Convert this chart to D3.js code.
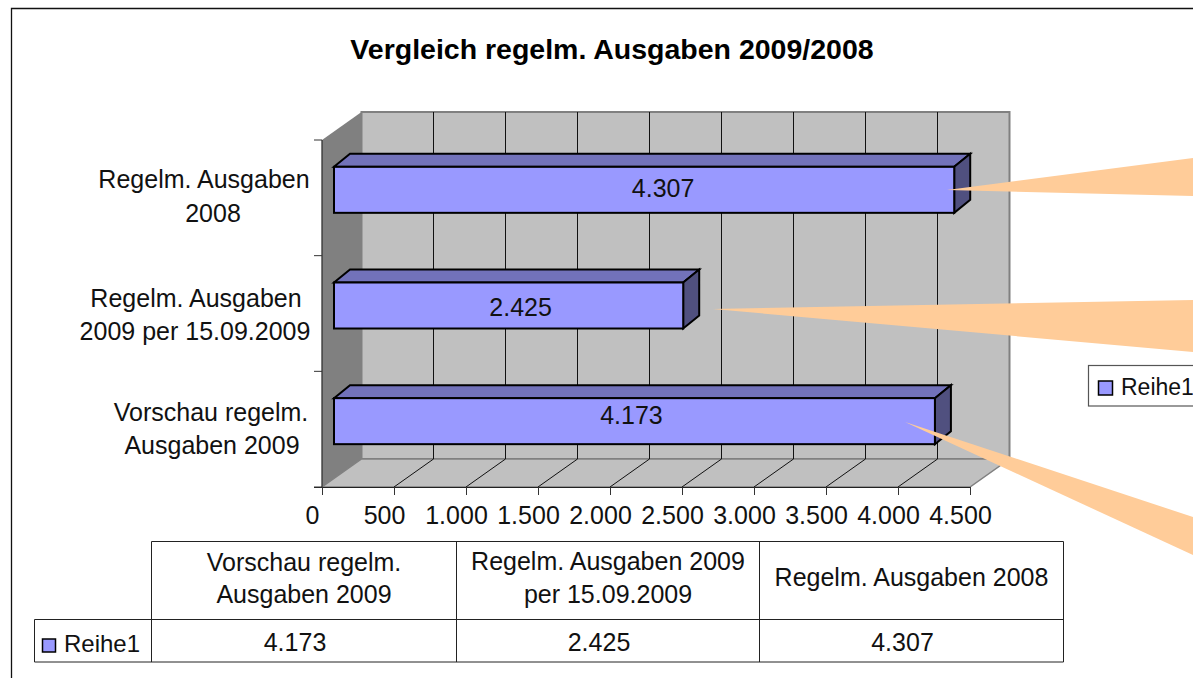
<!DOCTYPE html>
<html>
<head>
<meta charset="utf-8">
<script src="https://cdn.jsdelivr.net/npm/d3@7"></script>
<style>
  html, body { margin: 0; padding: 0; background: #fff; overflow: hidden; }
  text { font-family: "Liberation Sans", Arial, sans-serif; fill: #111; }
</style>
</head>
<body>
<svg id="chart" width="1193" height="678"></svg>
<script>
// values, bottom row of the chart first
const categories = ["Vorschau regelm. Ausgaben 2009", "Regelm. Ausgaben 2009 per 15.09.2009", "Regelm. Ausgaben 2008"];
const values = [4173, 2425, 4307];
const seriesName = "Reihe1";
const axisTicks = [0, 500, 1000, 1500, 2000, 2500, 3000, 3500, 4000, 4500];
const title = "Vergleich regelm. Ausgaben 2009/2008";

// line breaks differ between the axis and the table
const axisLabelLines = [["Vorschau regelm.", "Ausgaben 2009"], ["Regelm. Ausgaben", "2009 per 15.09.2009"], ["Regelm. Ausgaben", "2008"]];
const tableLabelLines = [["Vorschau regelm.", "Ausgaben 2009"], ["Regelm. Ausgaben 2009", "per 15.09.2009"], ["Regelm. Ausgaben 2008"]];

const svg = d3.select("#chart");
const locale = d3.formatLocale({ decimal: ",", thousands: ".", grouping: [3], currency: ["", ""] });
const fmt = locale.format(",d");
const fontSize = 25;

const x = d3.scaleLinear().domain([0, 4500]).range([322, 970]);
const y = d3.scaleBand().domain(categories).range([487, 140]);

const depth = { x: 39.5, y: -28 };
const bar = { offset: 12, dx: 16, dy: -13, height: 46 };
const barColor = { front: "#9999FF", top: "#7272BA", side: "#50507F" };

const top3d = y.range()[1], bottom3d = y.range()[0];
const left = x.range()[0], right = x.range()[1];
const poly = pts => "M" + pts.map(p => p.join(",")).join("L") + "Z";

// outer frame, only top and left are in view
svg.append("path")
    .attr("d", `M1193,8.5H11.5V678`)
    .attr("fill", "none").attr("stroke", "#111").attr("stroke-width", 1.3);

svg.append("text")
    .attr("x", 612).attr("y", 59)
    .attr("text-anchor", "middle")
    .attr("font-size", 28.5).attr("font-weight", "bold")
    .style("fill", "#000")
    .text(title);

// back wall, side wall, floor
svg.append("path")
    .attr("d", poly([[left + depth.x, top3d + depth.y], [right + depth.x, top3d + depth.y], [right + depth.x, bottom3d + depth.y], [left + depth.x, bottom3d + depth.y]]))
    .attr("fill", "#C0C0C0").attr("stroke", "#808080").attr("stroke-width", 2);
svg.append("path")
    .attr("d", poly([[left, top3d], [left + depth.x, top3d + depth.y], [left + depth.x, bottom3d + depth.y], [left, bottom3d]]))
    .attr("fill", "#808080");
svg.append("path")
    .attr("d", poly([[left, bottom3d], [left + depth.x, bottom3d + depth.y], [right + depth.x, bottom3d + depth.y], [right, bottom3d]]))
    .attr("fill", "#C0C0C0").attr("stroke", "#808080").attr("stroke-width", 1.5);

// grid on the back wall and floor
const grid = svg.append("g").attr("fill", "none").attr("stroke", "#111").attr("stroke-width", 1);
grid.selectAll("path.wall")
    .data(axisTicks.slice(1, -1))
    .enter().append("path")
    .attr("class", "wall")
    .attr("d", d => `M${x(d) + depth.x},${top3d + depth.y}V${bottom3d + depth.y}`);
grid.selectAll("path.floor")
    .data(axisTicks.slice(1, -1))
    .enter().append("path")
    .attr("class", "floor")
    .attr("d", d => `M${x(d)},${bottom3d}L${x(d) + depth.x},${bottom3d + depth.y}`);

// value axis, labels sit a little left of their ticks in the original
const xAxis = d3.axisBottom(x).tickValues(axisTicks).tickFormat(fmt).tickSize(8).tickPadding(11);
const xG = svg.append("g")
    .attr("transform", `translate(0,${bottom3d})`)
    .call(xAxis);
xG.select(".domain").attr("stroke", "#222").attr("d", `M${left - 8},0.5H${right}`);
xG.selectAll(".tick line").attr("stroke", "#333");
xG.selectAll(".tick text")
    .attr("font-size", fontSize)
    .attr("font-family", "Liberation Sans")
    .attr("dx", -10)
    .style("fill", "#111");

// category axis
const yTicks = svg.append("g").attr("stroke", "#333").attr("fill", "none");
yTicks.append("path").attr("d", `M${left},${top3d}V${bottom3d}`).attr("stroke", "#333").attr("stroke-width", 1.3);
yTicks.selectAll("path.t")
    .data(d3.range(categories.length + 1))
    .enter().append("path")
    .attr("class", "t")
    .attr("d", i => `M${left - 8},${bottom3d - i * y.step()}H${left}`);

const labelShift = [[211, 212], [196, 195], [204, 213]];
const labelBase = [[-8, 25], [-7, 26], [-10, 24]];
categories.forEach((c, i) => {
    const cy = y(c) + y.bandwidth() / 2;
    axisLabelLines[i].forEach((line, j) => {
        svg.append("text")
            .attr("x", labelShift[i][j])
            .attr("y", cy + labelBase[i][j])
            .attr("text-anchor", "middle")
            .attr("font-size", fontSize)
            .text(line);
    });
});

// bars
const rows = categories.map((c, i) => ({ c, v: values[i], i }));
const barX0 = left + bar.offset;
const bx = d => x(d.v) + bar.offset;
const by = d => y(d.c) + y.bandwidth() / 2 - 8 - bar.height / 2;

const bars = svg.selectAll("g.bar").data(rows).enter().append("g")
    .attr("class", "bar")
    .attr("stroke", "#000").attr("stroke-width", 2).attr("stroke-linejoin", "miter");
bars.append("path")
    .attr("fill", barColor.top)
    .attr("d", d => poly([[barX0, by(d)], [barX0 + bar.dx, by(d) + bar.dy], [bx(d) + bar.dx, by(d) + bar.dy], [bx(d), by(d)]]));
bars.append("path")
    .attr("fill", barColor.side)
    .attr("d", d => poly([[bx(d), by(d)], [bx(d) + bar.dx, by(d) + bar.dy], [bx(d) + bar.dx, by(d) + bar.dy + bar.height], [bx(d), by(d) + bar.height]]));
bars.append("rect")
    .attr("fill", barColor.front)
    .attr("x", barX0)
    .attr("y", by)
    .attr("width", d => bx(d) - barX0)
    .attr("height", bar.height);

// data labels are not centred on the bars in the original
const labelDx = [-3, 12, 19];
const labelDy = [26, 33, 30];
svg.selectAll("text.val").data(rows).enter().append("text")
    .attr("class", "val")
    .attr("x", d => (barX0 + bx(d)) / 2 + labelDx[d.i])
    .attr("y", d => by(d) + labelDy[d.i])
    .attr("text-anchor", "middle")
    .attr("font-size", fontSize)
    .text(d => fmt(d.v));

// hand-drawn callout wedges on top of the chart
const wedges = [
    [[947, 190], [1193, 158], [1193, 196]],
    [[713, 309], [1193, 300], [1193, 352]],
    [[905, 422], [1193, 517], [1193, 555]]
];
svg.selectAll("path.wedge").data(wedges).enter().append("path")
    .attr("class", "wedge")
    .attr("d", poly)
    .attr("fill", "#FFCC99");

// legend, box runs past the right edge
const legend = svg.append("g");
legend.append("rect")
    .attr("x", 1088.5).attr("y", 365.5).attr("width", 120).attr("height", 40.5)
    .attr("fill", "#fff").attr("stroke", "#555").attr("stroke-width", 1.2);
legend.append("rect")
    .attr("x", 1098.5).attr("y", 381).attr("width", 14).attr("height", 14)
    .attr("fill", barColor.front).attr("stroke", "#000").attr("stroke-width", 1.5);
legend.append("text")
    .attr("x", 1121).attr("y", 395)
    .attr("font-size", 23)
    .text(seriesName);

// data table under the axis
const colX = [151.5, 456.5, 759.5, 1063.5];
const tableTop = 541.5, tableMid = 619.5, tableBottom = 662;
const legendLeft = 34.5;
const valueShift = -9;
const table = svg.append("g").attr("fill", "none").attr("stroke", "#222").attr("stroke-width", 1);
table.append("path").attr("d", `M${colX[0]},${tableTop}H${colX[3]}V${tableBottom}H${legendLeft}V${tableMid}H${colX[3]}`);
colX.slice(0, 3).forEach(cx => table.append("path").attr("d", `M${cx},${tableTop}V${tableBottom}`));

const tableBase = [[571, 603], [570, 603], [586]];
categories.forEach((c, i) => {
    const cx = (colX[i] + colX[i + 1]) / 2;
    tableLabelLines[i].forEach((line, j) => {
        svg.append("text")
            .attr("x", cx).attr("y", tableBase[i][j])
            .attr("text-anchor", "middle")
            .attr("font-size", fontSize)
            .text(line);
    });
    svg.append("text")
        .attr("x", cx + valueShift).attr("y", 651)
        .attr("text-anchor", "middle")
        .attr("font-size", fontSize)
        .text(fmt(values[i]));
});
svg.append("rect")
    .attr("x", 42.5).attr("y", 639).attr("width", 13).attr("height", 13)
    .attr("fill", barColor.front).attr("stroke", "#000").attr("stroke-width", 1.5);
svg.append("text")
    .attr("x", 64).attr("y", 652)
    .attr("font-size", 24)
    .text(seriesName);
</script>
</body>
</html>
